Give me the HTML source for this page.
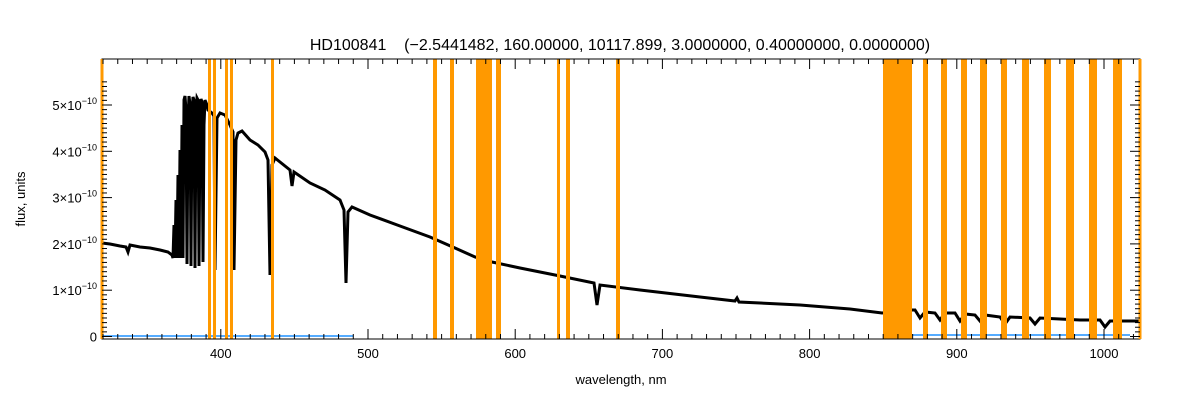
<!DOCTYPE html>
<html><head><meta charset="utf-8"><style>
html,body{margin:0;padding:0;background:#fff;}
svg{display:block;font-family:"Liberation Sans",sans-serif;}
</style></head><body>
<svg id="s" width="1200" height="400" xmlns="http://www.w3.org/2000/svg">
<rect width="1200" height="400" fill="#fff"/>
<polyline fill="none" stroke="#1e90ff" stroke-width="1.5" points="102,336 353,336"/>
<polyline fill="none" stroke="#1e90ff" stroke-width="1.5" points="912,335 1130,335"/>
<polyline id="spec" fill="none" stroke="#000" stroke-width="3" stroke-linejoin="miter"/>
<g id="bands2" fill="#ff9900"></g>
<rect x="102" y="59" width="1038" height="280" fill="none" stroke="#000" stroke-width="1"/>
<line x1="102" y1="59" x2="102" y2="339" stroke="#ff9900" stroke-width="3"/>
<line x1="1140" y1="59" x2="1140" y2="339" stroke="#ff9900" stroke-width="3"/>
<g id="ticks" stroke="#000" stroke-width="1"></g>
<g id="labels" font-size="13" fill="#000"></g>
<text x="620" y="50" font-size="16" text-anchor="middle" style="white-space:pre" xml:space="preserve">HD100841    (−2.5441482, 160.00000, 10117.899, 3.0000000, 0.40000000, 0.0000000)</text>
<text x="621" y="384" font-size="13" text-anchor="middle">wavelength, nm</text>
<text x="0" y="0" font-size="13" text-anchor="middle" transform="translate(25,199) rotate(-90)">flux, units</text>
</svg>
<script>
var NS="http://www.w3.org/2000/svg";
function el(p,t,a,txt){var e=document.createElementNS(NS,t);for(var k in a)e.setAttribute(k,a[k]);if(txt)e.textContent=txt;document.getElementById(p).appendChild(e);return e;}
var bands=[[208,211],[213,216],[225,228],[230,233],[271,274],[433,437],[450,454],[476,492],[496,501],[557,560],[566,570],[616,620],[883,912],[923,928],[941,947],[961,967],[980,987],[1001,1007],[1022,1029],[1044,1051],[1066,1074],[1089,1097],[1113,1122]];
bands.forEach(function(b){el("bands2","rect",{x:b[0],y:59,width:b[1]-b[0],height:280});});
var pts=[[102,243],[110,244],[120,246],[126,247],[128,252],[130,245],[140,247],[150,248],[160,250],[168,252],[172,255]];
// dense ramp
for(var x=173;x<=184;x+=1){
  var env=250-(x-172)*12.5; if(env<100)env=100;
  pts.push(x%2==0?[x,env]:[x,258]);
}
pts=pts.concat([[185,96],[186,110],[187,264],[188,120],[189,96],[190,104],[191,266],[192,115],[193,97],[194,100],[195,268],[196,112],[197,98],[198,100],[199,266],[200,118],[201,99],[202,102],[203,262],[204,125],[205,100],[207,105]]);
pts=pts.concat([[208,110],[212,113],[214,116],[215,270],[217,118],[220,113],[225,115],[230,125],[233,132],[234,270],[236,140],[238,133],[242,131],[250,140],[258,145],[265,152],[268,160],[270,275],[272,165],[275,158],[285,166],[290,170],[292,186],[294,172],[310,183],[325,190],[340,200],[344,210],[346,283],[348,212],[352,207],[370,215],[400,226],[430,237],[455,248],[475,257],[492,262],[520,268],[560,276],[594,283],[597,305],[600,285],[640,290],[700,297],[735,301],[737,298],[739,302],[800,305],[850,309],[882,313],[912,310],[915,310],[920,318],[925,312],[935,313],[940,320],[945,313],[955,313],[960,321],[965,314],[975,315],[980,321],[985,315],[1000,317],[1005,324],[1010,317],[1030,318],[1035,324],[1040,318],[1060,319],[1080,320],[1100,320],[1105,327],[1110,321],[1140,321]]);
document.getElementById("spec").setAttribute("points",pts.map(function(p){return p.join(",")}).join(" "));
function xp(w){return 220.8+(w-400)*1.472;}
for(var w=320;w<=1020;w+=10){var x=xp(w);if(x<102||x>1140)continue;var L=(w%100==0)?10:5;
 el("ticks","line",{x1:x,y1:339,x2:x,y2:339-L});el("ticks","line",{x1:x,y1:59,x2:x,y2:59+L});
 if(w%100==0)el("labels","text",{x:x,y:358,"text-anchor":"middle"},String(w));}
function yp(v){return 336.5-v*46.3;}
for(var k=0;k<=55;k++){var v=k/10;var y=yp(v);if(y<59)continue;var L=(k%10==0)?10:5;
 el("ticks","line",{x1:102,y1:y,x2:102+L,y2:y});el("ticks","line",{x1:1140,y1:y,x2:1140-L,y2:y});}
for(var m=0;m<=5;m++){var y=yp(m);
 if(m==0){el("labels","text",{x:97,y:y+5,"text-anchor":"end"},"0");}
 else{var t=el("labels","text",{x:97,y:y+5,"text-anchor":"end"});
  var a=document.createElementNS(NS,"tspan");a.textContent=m+"×10";t.appendChild(a);
  var b=document.createElementNS(NS,"tspan");b.setAttribute("font-size","9");b.setAttribute("dy","-6");b.textContent="−10";t.appendChild(b);}}
</script>
</body></html>
